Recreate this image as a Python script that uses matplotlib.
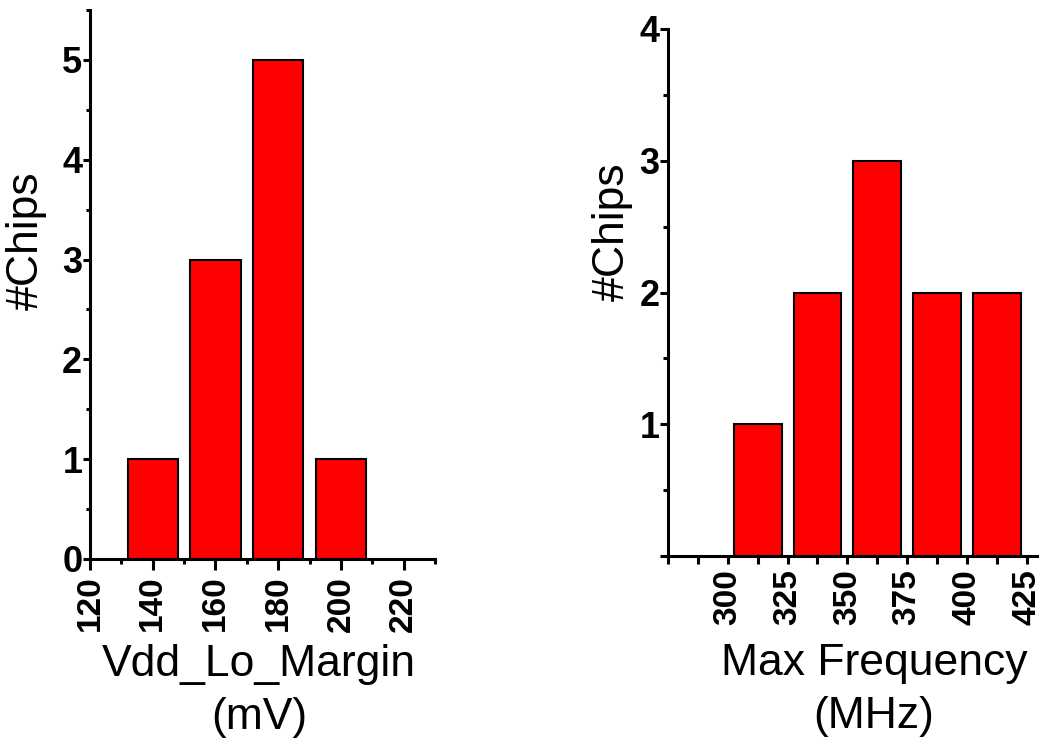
import matplotlib
matplotlib.use("Agg")
import matplotlib.pyplot as plt
from matplotlib.ticker import MultipleLocator, FixedLocator, FixedFormatter

plt.rcParams['font.family'] = ['Liberation Sans', 'DejaVu Sans']

# Histogram data: bin centres and chip counts
vdd_bins = [140, 160, 180, 200]
vdd_counts = [1, 3, 5, 1]

freq_bins = [312.5, 337.5, 362.5, 387.5, 412.5]
freq_counts = [1, 2, 3, 2, 2]

vdd_ticks = [120, 140, 160, 180, 200, 220]
freq_ticks = [300, 325, 350, 375, 400, 425]
freq_tick_labels = ['300', '325', '350', '375', '400', '425']
vdd_yticks = [0, 1, 2, 3, 4, 5]
freq_yticks = [0, 1, 2, 3, 4]
freq_ytick_labels = ['', '1', '2', '3', '4']

W, H = 1041, 744
fig = plt.figure(figsize=(W / 100, H / 100), dpi=100)

ax1 = fig.add_axes([90 / W, 1 - 559 / H, 345 / W, 549 / H])
ax2 = fig.add_axes([668 / W, 1 - 556 / H, 369 / W, 527 / H])

LW = 2.2
LABEL_SIZE = 32


def style_axes(ax):
    for side in ('top', 'right'):
        ax.spines[side].set_visible(False)
    for side in ('left', 'bottom'):
        ax.spines[side].set_linewidth(LW)
        ax.spines[side].set_color('black')
    ax.tick_params(which='both', direction='out', width=LW, color='black')


def bold_ticklabels(ax, xsize, ysize):
    for lab in ax.get_xticklabels():
        lab.set_rotation(90)
        lab.set_fontsize(xsize)
        lab.set_fontweight('bold')
    for lab in ax.get_yticklabels():
        lab.set_fontsize(ysize)
        lab.set_fontweight('bold')


# Left panel: Vdd low margin
ax1.bar(vdd_bins, vdd_counts, width=16, color='#ff0000', edgecolor='black',
        linewidth=1.5, zorder=2)
ax1.set_xlim(120, 230)
ax1.set_ylim(0, 5.5)
style_axes(ax1)
ax1.xaxis.set_major_locator(FixedLocator(vdd_ticks))
ax1.xaxis.set_minor_locator(MultipleLocator(10))
ax1.yaxis.set_major_locator(FixedLocator(vdd_yticks))
ax1.yaxis.set_minor_locator(MultipleLocator(0.5))
ax1.tick_params(axis='x', which='major', length=8, pad=4)
ax1.tick_params(axis='x', which='minor', length=3.8)
ax1.tick_params(axis='y', which='major', length=5, pad=0.5)
ax1.tick_params(axis='y', which='minor', length=3)
bold_ticklabels(ax1, 24, 26)
ax1.set_ylabel('#Chips', fontsize=LABEL_SIZE)
ax1.yaxis.set_label_coords(-0.125, 0.579)
ax1.set_xlabel('Vdd_Lo_Margin\n(mV)', fontsize=LABEL_SIZE, linespacing=1.38)
ax1.xaxis.set_label_coords(0.49, -0.155)

# Right panel: maximum frequency
ax2.bar(freq_bins, freq_counts, width=20, color='#ff0000', edgecolor='black',
        linewidth=1.5, zorder=2)
ax2.set_xlim(275, 429.3)
ax2.set_ylim(0, 4)
style_axes(ax2)
ax2.xaxis.set_major_locator(FixedLocator(freq_ticks))
ax2.xaxis.set_major_formatter(FixedFormatter(freq_tick_labels))
ax2.xaxis.set_minor_locator(MultipleLocator(12.5))
ax2.yaxis.set_major_locator(FixedLocator(freq_yticks))
ax2.yaxis.set_major_formatter(FixedFormatter(freq_ytick_labels))
ax2.yaxis.set_minor_locator(MultipleLocator(0.5))
ax2.tick_params(axis='x', which='both', length=5.5, pad=4)
ax2.tick_params(axis='y', which='major', length=5.5, pad=0.5)
ax2.tick_params(axis='y', which='minor', length=3.5)
bold_ticklabels(ax2, 24, 26)
ax2.set_ylabel('#Chips', fontsize=LABEL_SIZE)
ax2.yaxis.set_label_coords(-0.095, 0.615)
ax2.set_xlabel('Max Frequency\n(MHz)', fontsize=LABEL_SIZE, linespacing=1.38)
ax2.xaxis.set_label_coords(0.558, -0.165)

fig.savefig('out.png', dpi=100, facecolor='white')
